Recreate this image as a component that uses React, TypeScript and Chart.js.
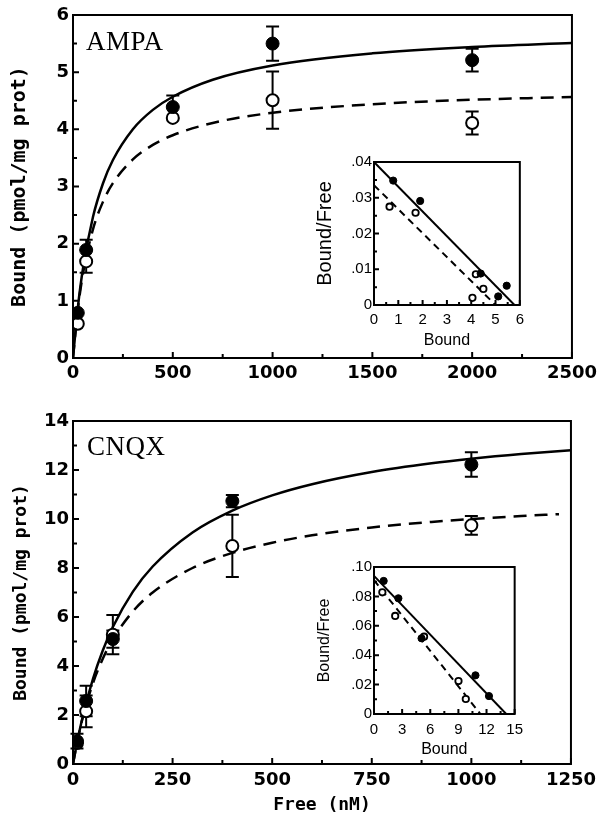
import React, { useEffect, useRef } from 'react';
import { Chart, registerables } from 'chart.js';

Chart.register(...registerables);

// ---------- AMPA main panel ----------
const ampaFree = [24, 66, 500, 1000, 2000];
const ampaBoundFilled = [0.79, 1.89, 4.39, 5.5, 5.21];
const ampaErrFilled = [0, 0.18, 0.2, 0.3, 0.2];
const ampaBoundOpen = [0.6, 1.69, 4.2, 4.51, 4.11];
const ampaErrOpen = [0, 0.2, 0, 0.5, 0.2];
const ampaFitFree = [0, 25, 50, 100, 150, 200, 300, 400, 500, 700, 1000, 1500, 2000, 2500];
const ampaFitSolid = [0, 0.905, 1.566, 2.466, 3.053, 3.463, 4.002, 4.34, 4.57, 4.868, 5.117, 5.329, 5.441, 5.511];
const ampaFitDashed = [0, 0.87, 1.472, 2.25, 2.731, 3.058, 3.473, 3.727, 3.897, 4.112, 4.29, 4.439, 4.517, 4.565];
const ampaXTicks = [0, 500, 1000, 1500, 2000, 2500];
const ampaXTickLabels = ['0', '500', '1000', '1500', '2000', '2500'];
const ampaYTicks = [0, 1, 2, 3, 4, 5, 6];
const ampaYTickLabels = ['0', '1', '2', '3', '4', '5', '6'];

// ---------- AMPA Scatchard inset ----------
const ampaScatFilledX = [0.79, 1.9, 4.39, 5.46, 5.11];
const ampaScatFilledY = [0.0348, 0.0291, 0.0088, 0.0054, 0.0024];
const ampaScatOpenX = [0.64, 1.71, 4.19, 4.5, 4.05];
const ampaScatOpenY = [0.0275, 0.0258, 0.0086, 0.0045, 0.002];
const ampaScatSolidX = [0, 5.78];
const ampaScatSolidY = [0.04, 0];
const ampaScatDashedX = [0, 5.0];
const ampaScatDashedY = [0.0335, 0];
const ampaInsetXTicks = [0, 1, 2, 3, 4, 5, 6];
const ampaInsetXTickLabels = ['0', '1', '2', '3', '4', '5', '6'];
const ampaInsetYTicks = [0, 0.01, 0.02, 0.03, 0.04];
const ampaInsetYTickLabels = ['0', '.01', '.02', '.03', '.04'];

// ---------- CNQX main panel ----------
const cnqxFree = [10, 33, 100, 400, 1000];
const cnqxBoundFilled = [0.93, 2.57, 5.1, 10.73, 12.22];
const cnqxErrFilled = [0.3, 0.62, 0.35, 0.25, 0.5];
const cnqxBoundOpen = [0.86, 2.15, 5.28, 8.9, 9.74];
const cnqxErrOpen = [0, 0.65, 0.8, 1.27, 0.38];
const cnqxFitFree = [0, 10, 25, 50, 75, 100, 150, 200, 300, 400, 500, 600, 750, 900, 1000, 1125, 1250];
const cnqxFitSolid = [0, 0.859, 1.971, 3.469, 4.645, 5.593, 7.028, 8.061, 9.452, 10.344, 10.965, 11.422, 11.919, 12.275, 12.461, 12.653, 12.811];
const cnqxFitDashedFree = [0, 10, 25, 50, 75, 100, 150, 200, 300, 400, 500, 600, 750, 900, 1000, 1125, 1220];
const cnqxFitDashed = [0, 0.862, 1.931, 3.294, 4.308, 5.091, 6.222, 7.0, 8.0, 8.615, 9.032, 9.333, 9.655, 9.882, 10.0, 10.12, 10.197];
const cnqxXTicks = [0, 250, 500, 750, 1000, 1250];
const cnqxXTickLabels = ['0', '250', '500', '750', '1000', '1250'];
const cnqxYTicks = [0, 2, 4, 6, 8, 10, 12, 14];
const cnqxYTickLabels = ['0', '2', '4', '6', '8', '10', '12', '14'];

// ---------- CNQX Scatchard inset ----------
const cnqxScatFilledX = [1.03, 2.6, 5.07, 10.82, 12.26];
const cnqxScatFilledY = [0.0905, 0.0787, 0.0515, 0.0263, 0.0122];
const cnqxScatOpenX = [0.89, 2.26, 5.34, 9.01, 9.79];
const cnqxScatOpenY = [0.0828, 0.0667, 0.0526, 0.0224, 0.0102];
const cnqxScatSolidX = [0, 14.1];
const cnqxScatSolidY = [0.094, 0];
const cnqxScatDashedX = [0, 11.35];
const cnqxScatDashedY = [0.091, 0];
const cnqxInsetXTicks = [0, 3, 6, 9, 12, 15];
const cnqxInsetXTickLabels = ['0', '3', '6', '9', '12', '15'];
const cnqxInsetYTicks = [0, 0.02, 0.04, 0.06, 0.08, 0.1];
const cnqxInsetYTickLabels = ['0', '.02', '.04', '.06', '.08', '.10'];

// ---------- helpers ----------
const zip = (xs: number[], ys: number[]) => xs.map((x, i) => ({ x, y: ys[i] }));
const labelFor = (v: number, majors: number[], labels: string[]) => {
  const i = majors.findIndex((m) => Math.abs(m - v) < 1e-7);
  return i >= 0 ? labels[i] : '';
};

const frameTicksPlugin = {
  id: 'frameTicks',
  afterDraw(chart: any, _args: any, opts: any) {
    const { ctx, chartArea: a } = chart;
    ctx.save();
    ctx.strokeStyle = '#000';
    ctx.lineWidth = opts.lineWidth;
    ctx.strokeRect(a.left, a.top, a.right - a.left, a.bottom - a.top);
    const xs = chart.scales.x;
    const ys = chart.scales.y;
    ctx.beginPath();
    xs.ticks.forEach((t: any) => {
      const px = xs.getPixelForValue(t.value);
      const len = t.label ? opts.major : opts.minor;
      ctx.moveTo(px, a.bottom);
      ctx.lineTo(px, a.bottom - len);
    });
    ys.ticks.forEach((t: any) => {
      const py = ys.getPixelForValue(t.value);
      const len = t.label ? opts.major : opts.minor;
      ctx.moveTo(a.left, py);
      ctx.lineTo(a.left + len, py);
    });
    ctx.stroke();
    ctx.restore();
  },
};

const errorBarsPlugin = {
  id: 'errorBars',
  beforeDatasetsDraw(chart: any, _args: any, opts: any) {
    const { ctx } = chart;
    const xs = chart.scales.x;
    const ys = chart.scales.y;
    ctx.save();
    ctx.strokeStyle = '#000';
    ctx.lineWidth = opts.lineWidth || 2;
    const cap = opts.cap || 6;
    chart.data.datasets.forEach((ds: any) => {
      const errs = ds.errors;
      if (!errs) return;
      ds.data.forEach((p: any, i: number) => {
        const e = errs[i];
        if (!e) return;
        const px = xs.getPixelForValue(p.x);
        const top = ys.getPixelForValue(p.y + e);
        const bot = ys.getPixelForValue(p.y - e);
        ctx.beginPath();
        ctx.moveTo(px, top);
        ctx.lineTo(px, bot);
        ctx.moveTo(px - cap, top);
        ctx.lineTo(px + cap, top);
        ctx.moveTo(px - cap, bot);
        ctx.lineTo(px + cap, bot);
        ctx.stroke();
      });
    });
    ctx.restore();
  },
};

const tickFont = { family: 'DejaVu Sans', weight: 'bold' as const, size: 18 };
const insetTickFont = { family: 'Liberation Sans', size: 15 };

function mainConfig(p: any) {
  return {
    type: 'scatter',
    data: {
      datasets: [
        {
          label: 'filled',
          data: zip(p.free, p.filled),
          errors: p.filledErr,
          order: 1,
          pointRadius: 6.5,
          pointBackgroundColor: '#000',
          pointBorderColor: '#000',
          pointBorderWidth: 1,
          showLine: false,
        },
        {
          label: 'open',
          data: zip(p.free, p.open),
          errors: p.openErr,
          order: 2,
          pointRadius: 6,
          pointBackgroundColor: '#fff',
          pointBorderColor: '#000',
          pointBorderWidth: 2,
          showLine: false,
        },
        {
          label: 'fit solid',
          data: zip(p.fitX, p.fitSolid),
          showLine: true,
          pointRadius: 0,
          borderColor: '#000',
          borderWidth: 2.5,
          cubicInterpolationMode: 'monotone',
          order: 3,
        },
        {
          label: 'fit dashed',
          data: zip(p.fitDX, p.fitDashed),
          showLine: true,
          pointRadius: 0,
          borderColor: '#000',
          borderWidth: 2.5,
          borderDash: [13, 8],
          cubicInterpolationMode: 'monotone',
          order: 3,
        },
      ],
    },
    options: {
      responsive: false,
      animation: false,
      events: [],
      layout: { padding: { left: 0, top: p.padTop, right: 27, bottom: 0 } },
      plugins: {
        legend: { display: false },
        tooltip: { enabled: false },
        frameTicks: { lineWidth: 2, major: 6, minor: 4 },
        errorBars: { lineWidth: 2, cap: 6.5 },
      },
      scales: {
        x: {
          type: 'linear',
          min: 0,
          max: p.xMax,
          grid: { display: false, drawTicks: false },
          border: { display: false },
          ticks: {
            stepSize: p.xStep,
            autoSkip: false,
            maxRotation: 0,
            padding: p.xPad,
            color: '#000',
            font: tickFont,
            callback: (v: number) => labelFor(v, p.xMajor, p.xLabels),
          },
          title: p.xTitle
            ? {
                display: true,
                text: p.xTitle,
                color: '#000',
                font: { family: 'DejaVu Sans Mono', weight: 'bold', size: 18 },
                padding: { top: 0, bottom: 1 },
              }
            : { display: false },
          afterFit: (s: any) => {
            s.height = p.xH;
          },
        },
        y: {
          type: 'linear',
          min: 0,
          max: p.yMax,
          grid: { display: false, drawTicks: false },
          border: { display: false },
          ticks: {
            stepSize: p.yStep,
            autoSkip: false,
            padding: 4,
            color: '#000',
            font: tickFont,
            callback: (v: number) => labelFor(v, p.yMajor, p.yLabels),
          },
          title: {
            display: true,
            text: 'Bound (pmol/mg prot)',
            color: '#000',
            font: { family: 'DejaVu Sans Mono', weight: 'bold', size: p.yTitleSize },
            padding: { top: p.yTitlePad, bottom: 0 },
          },
          afterFit: (s: any) => {
            s.width = 73;
          },
        },
      },
    },
    plugins: [frameTicksPlugin, errorBarsPlugin],
  };
}

function insetConfig(p: any) {
  return {
    type: 'scatter',
    data: {
      datasets: [
        {
          label: 'filled',
          data: zip(p.fx, p.fy),
          order: 1,
          pointRadius: 3.6,
          pointBackgroundColor: '#000',
          pointBorderColor: '#000',
          pointBorderWidth: 1,
          showLine: false,
        },
        {
          label: 'open',
          data: zip(p.ox, p.oy),
          order: 2,
          pointRadius: 3.2,
          pointBackgroundColor: '#fff',
          pointBorderColor: '#000',
          pointBorderWidth: 1.8,
          showLine: false,
        },
        {
          label: 'solid',
          data: zip(p.sx, p.sy),
          showLine: true,
          pointRadius: 0,
          borderColor: '#000',
          borderWidth: 2,
          order: 3,
        },
        {
          label: 'dashed',
          data: zip(p.dx, p.dy),
          showLine: true,
          pointRadius: 0,
          borderColor: '#000',
          borderWidth: 2,
          borderDash: [7, 5],
          order: 3,
        },
      ],
    },
    options: {
      responsive: false,
      animation: false,
      events: [],
      layout: { padding: { left: 0, top: 12, right: p.padRight, bottom: 0 } },
      plugins: {
        legend: { display: false },
        tooltip: { enabled: false },
        frameTicks: { lineWidth: 2, major: 5, minor: 3 },
      },
      scales: {
        x: {
          type: 'linear',
          min: 0,
          max: p.xMax,
          grid: { display: false, drawTicks: false },
          border: { display: false },
          ticks: {
            stepSize: p.xStep,
            autoSkip: false,
            maxRotation: 0,
            padding: p.xPad,
            color: '#000',
            font: insetTickFont,
            callback: (v: number) => labelFor(v, p.xMajor, p.xLabels),
          },
          title: {
            display: true,
            text: 'Bound',
            color: '#000',
            font: { family: 'Liberation Sans', size: 16 },
            padding: { top: 0, bottom: p.xTitlePad },
          },
          afterFit: (s: any) => {
            s.height = p.xH;
          },
        },
        y: {
          type: 'linear',
          min: 0,
          max: p.yMax,
          grid: { display: false, drawTicks: false },
          border: { display: false },
          ticks: {
            stepSize: p.yStep,
            autoSkip: false,
            padding: 2,
            color: '#000',
            font: insetTickFont,
            callback: (v: number) => labelFor(v, p.yMajor, p.yLabels),
          },
          title: {
            display: true,
            text: 'Bound/Free',
            color: '#000',
            font: { family: 'Liberation Sans', size: p.yTitleSize },
            padding: { top: p.yTitlePad, bottom: 0 },
          },
          afterFit: (s: any) => {
            s.width = 64;
          },
        },
      },
    },
    plugins: [frameTicksPlugin],
  };
}

function ChartBox({ left, top, width, height, build }: any) {
  const ref = useRef<HTMLCanvasElement | null>(null);
  useEffect(() => {
    const chart = new Chart(ref.current as HTMLCanvasElement, build() as any);
    return () => chart.destroy();
  }, []);
  return (
    <div style={{ position: 'absolute', left, top, width, height }}>
      <canvas ref={ref} width={width} height={height} style={{ width, height, display: 'block' }} />
    </div>
  );
}

export default function App() {
  const panelLabel = (text: string, left: number, top: number) => (
    <div
      style={{
        position: 'absolute',
        left,
        top,
        fontFamily: '"Liberation Serif", serif',
        fontSize: 27,
        lineHeight: '27px',
        letterSpacing: '0.5px',
        color: '#000',
        whiteSpace: 'nowrap',
      }}
    >
      {text}
    </div>
  );

  return (
    <div style={{ position: 'absolute', left: 0, top: 0, width: 602, height: 817, background: '#fff', overflow: 'hidden' }}>
      <ChartBox
        left={0}
        top={0}
        width={602}
        height={395}
        build={() =>
          mainConfig({
            free: ampaFree,
            filled: ampaBoundFilled,
            filledErr: ampaErrFilled,
            open: ampaBoundOpen,
            openErr: ampaErrOpen,
            fitX: ampaFitFree,
            fitSolid: ampaFitSolid,
            fitDX: ampaFitFree,
            fitDashed: ampaFitDashed,
            xMax: 2500,
            xStep: 250,
            xMajor: ampaXTicks,
            xLabels: ampaXTickLabels,
            yMax: 6,
            yStep: 0.5,
            yMajor: ampaYTicks,
            yLabels: ampaYTickLabels,
            padTop: 15,
            xH: 37,
            xPad: 5,
            xTitle: null,
            yTitleSize: 20,
            yTitlePad: 8,
          })
        }
      />
      <ChartBox
        left={0}
        top={395}
        width={602}
        height={422}
        build={() =>
          mainConfig({
            free: cnqxFree,
            filled: cnqxBoundFilled,
            filledErr: cnqxErrFilled,
            open: cnqxBoundOpen,
            openErr: cnqxErrOpen,
            fitX: cnqxFitFree,
            fitSolid: cnqxFitSolid,
            fitDX: cnqxFitDashedFree,
            fitDashed: cnqxFitDashed,
            xMax: 1250,
            xStep: 125,
            xMajor: cnqxXTicks,
            xLabels: cnqxXTickLabels,
            yMax: 14,
            yStep: 1,
            yMajor: cnqxYTicks,
            yLabels: cnqxYTickLabels,
            padTop: 26,
            xH: 53,
            xPad: 6,
            xTitle: 'Free (nM)',
            yTitleSize: 18,
            yTitlePad: 11,
          })
        }
      />
      <ChartBox
        left={310}
        top={150}
        width={220}
        height={205}
        build={() =>
          insetConfig({
            fx: ampaScatFilledX,
            fy: ampaScatFilledY,
            ox: ampaScatOpenX,
            oy: ampaScatOpenY,
            sx: ampaScatSolidX,
            sy: ampaScatSolidY,
            dx: ampaScatDashedX,
            dy: ampaScatDashedY,
            xMax: 6,
            xStep: 0.5,
            xMajor: ampaInsetXTicks,
            xLabels: ampaInsetXTickLabels,
            yMax: 0.04,
            yStep: 0.005,
            yMajor: ampaInsetYTicks,
            yLabels: ampaInsetYTickLabels,
            padRight: 9,
            xH: 50,
            xPad: 6,
            xTitlePad: 5,
            yTitleSize: 20,
            yTitlePad: 3,
          })
        }
      />
      <ChartBox
        left={310}
        top={555}
        width={220}
        height={205}
        build={() =>
          insetConfig({
            fx: cnqxScatFilledX,
            fy: cnqxScatFilledY,
            ox: cnqxScatOpenX,
            oy: cnqxScatOpenY,
            sx: cnqxScatSolidX,
            sy: cnqxScatSolidY,
            dx: cnqxScatDashedX,
            dy: cnqxScatDashedY,
            xMax: 15,
            xStep: 1.5,
            xMajor: cnqxInsetXTicks,
            xLabels: cnqxInsetXTickLabels,
            yMax: 0.1,
            yStep: 0.01,
            yMajor: cnqxInsetYTicks,
            yLabels: cnqxInsetYTickLabels,
            padRight: 10,
            xH: 46,
            xPad: 7,
            xTitlePad: 1,
            yTitleSize: 16,
            yTitlePad: 5,
          })
        }
      />
      {panelLabel('AMPA', 86, 28)}
      {panelLabel('CNQX', 87, 433)}
    </div>
  );
}
